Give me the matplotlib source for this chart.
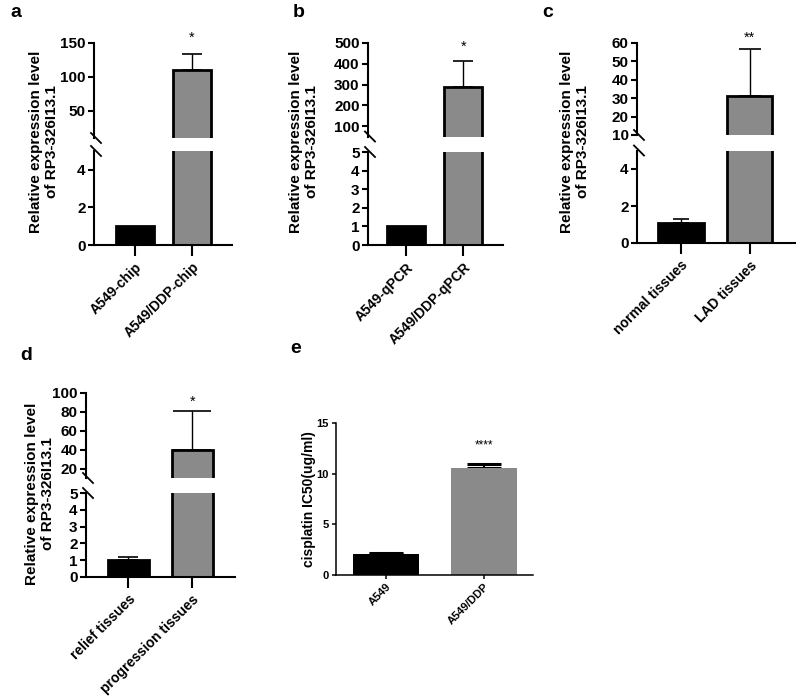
import numpy as np
import matplotlib
matplotlib.use("Agg")
import matplotlib.pyplot as plt
from matplotlib.lines import Line2D

plt.rcParams['font.family'] = ['Liberation Sans', 'DejaVu Sans']
plt.rcParams['font.weight'] = 'bold'

# data
ylab = "Relative expression level\nof RP3-326I13.1"

a_groups = ["A549-chip", "A549/DDP-chip"]
a_vals = [1.0, 110]
a_err = [0.0, 24]
a_star = "*"

b_groups = ["A549-qPCR", "A549/DDP-qPCR"]
b_vals = [1.0, 290]
b_err = [0.0, 125]
b_star = "*"

c_groups = ["normal tissues", "LAD tissues"]
c_vals = [1.1, 31]
c_err = [0.2, 25.5]
c_star = "**"

d_groups = ["relief tissues", "progression tissues"]
d_vals = [1.0, 40]
d_err = [0.2, 41]
d_star = "*"

e_groups = ["A549", "A549/DDP"]
e_vals = [2.1, 10.6]
e_err = [0.05, 0.35]
e_star = "****"

W, H = 800, 697
fig = plt.figure(figsize=(W / 100, H / 100), dpi=100)
GRAY = "#8a8a8a"


def px_axes(x0, x1, ytop, ybot):
    return fig.add_axes([x0 / W, 1 - ybot / H, (x1 - x0) / W, (ybot - ytop) / H])


def draw_bars(ax, vals, err, width, lw_edge, caps, edge=True):
    x = np.arange(len(vals))
    cols = ["black", GRAY]
    for i in range(len(vals)):
        ax.errorbar(x[i], vals[i], yerr=[[0], [err[i]]], fmt="none",
                    ecolor="black", elinewidth=1.0, capsize=caps[i], capthick=1.2, zorder=1)
        ax.bar(x[i], vals[i], width=width, color=cols[i],
               edgecolor="black" if edge else cols[i], linewidth=lw_edge if edge else 0, zorder=2)
    return x


def broken_panel(letter, lx, ly, groups, vals, err, star, star_y, x0, x1, up, lo,
                 uplim, lolim, upticks, loticks, xlim, width, caps, labxy):
    axu = px_axes(x0, x1, up[0], up[1])
    axl = px_axes(x0, x1, lo[0], lo[1])
    for ax in (axu, axl):
        draw_bars(ax, vals, err, width, 2.0, caps)
        ax.set_xlim(*xlim)
        for s in ("top", "right"):
            ax.spines[s].set_visible(False)
        ax.spines["left"].set_linewidth(1.5)
        ax.tick_params(axis="y", width=1.5, length=4, labelsize=11, pad=2)
        ax.patch.set_alpha(0)
    axu.set_ylim(*uplim)
    axl.set_ylim(*lolim)
    axu.spines["bottom"].set_visible(False)
    axu.set_xticks([])
    axu.set_yticks(upticks)
    axl.set_yticks(loticks)
    axl.spines["bottom"].set_linewidth(1.5)
    axl.set_xticks(np.arange(len(groups)))
    axl.set_xticklabels(groups, rotation=45, ha="right", rotation_mode="anchor",
                        fontsize=10, fontweight="bold")
    axl.tick_params(axis="x", width=1.5, length=8, pad=3)
    for lab in axu.get_yticklabels() + axl.get_yticklabels():
        lab.set_fontweight("bold")
    axu.text(1, star_y, star, ha="center", va="center", fontsize=10.5, fontweight="normal")
    # break marks
    for yb in (up[1], lo[0]):
        fig.add_artist(Line2D([(x0 - 3) / W, (x0 + 7) / W],
                              [1 - (yb - 5) / H, 1 - (yb + 5) / H],
                              color="black", lw=1.3))
    fig.text(labxy[0] / W, 1 - labxy[1] / H, ylab, rotation=90, ha="center", va="center",
             multialignment="center", fontsize=11, fontweight="bold", linespacing=1.25)
    fig.text(lx / W, 1 - ly / H, letter, fontsize=14, fontweight="bold", ha="left", va="baseline")


broken_panel("a", 10, 17, a_groups, a_vals, a_err, a_star, 157,
             94, 232, (43, 138), (151, 245), (10, 150), (0, 5),
             [50, 100, 150], [0, 2, 4], (-0.72, 1.70), 0.67, (0, 7), (44, 142))

broken_panel("b", 293, 17, b_groups, b_vals, b_err, b_star, 481,
             368, 503, (43, 136.5), (152, 245), (50, 500), (0, 5),
             [100, 200, 300, 400, 500], [0, 1, 2, 3, 4, 5], (-0.66, 1.69), 0.66, (0, 7), (304, 142))

broken_panel("c", 542, 17, c_groups, c_vals, c_err, c_star, 62.7,
             637, 795, (43, 135), (150.5, 243), (10, 60), (0, 5),
             [10, 20, 30, 40, 50, 60], [0, 2, 4], (-0.64, 1.66), 0.66, (6, 8), (575, 142))

broken_panel("d", 20, 360, d_groups, d_vals, d_err, d_star, 90.5,
             86, 235, (393, 478), (493, 577), (10, 100), (0, 5),
             [20, 40, 60, 80, 100], [0, 1, 2, 3, 4, 5], (-0.66, 1.67), 0.64, (7.5, 14), (40, 494))

# panel e
axe = px_axes(336, 533, 423, 575)
x = np.arange(len(e_vals))
axe.bar(x, e_vals, width=0.67, color=["black", GRAY], zorder=2)
axe.errorbar(x, e_vals, yerr=[[0, 0], e_err], fmt="none", ecolor="black",
             elinewidth=1.5, capsize=12, capthick=2.2, zorder=1)
axe.set_xlim(-0.51, 1.5)
axe.set_ylim(0, 15)
axe.set_yticks([0, 5, 10, 15])
axe.set_xticks(x)
axe.set_xticklabels(e_groups, rotation=45, ha="right", rotation_mode="anchor",
                    fontsize=8, fontweight="bold")
for s in ("top", "right"):
    axe.spines[s].set_visible(False)
for s in ("left", "bottom"):
    axe.spines[s].set_linewidth(1.1)
axe.tick_params(axis="both", width=1.1, length=3, labelsize=8, pad=2)
for lab in axe.get_yticklabels():
    lab.set_fontweight("bold")
axe.text(1, 12.8, e_star, ha="center", va="center", fontsize=8.5, fontweight="normal")
axe.patch.set_alpha(0)
fig.text(309 / W, 1 - 499 / H, "cisplatin IC50(ug/ml)", rotation=90, ha="center", va="center",
         fontsize=10, fontweight="bold")
fig.text(290 / W, 1 - 353 / H, "e", fontsize=14, fontweight="bold", ha="left", va="baseline")

fig.savefig("out.png", dpi=100, facecolor="white")
